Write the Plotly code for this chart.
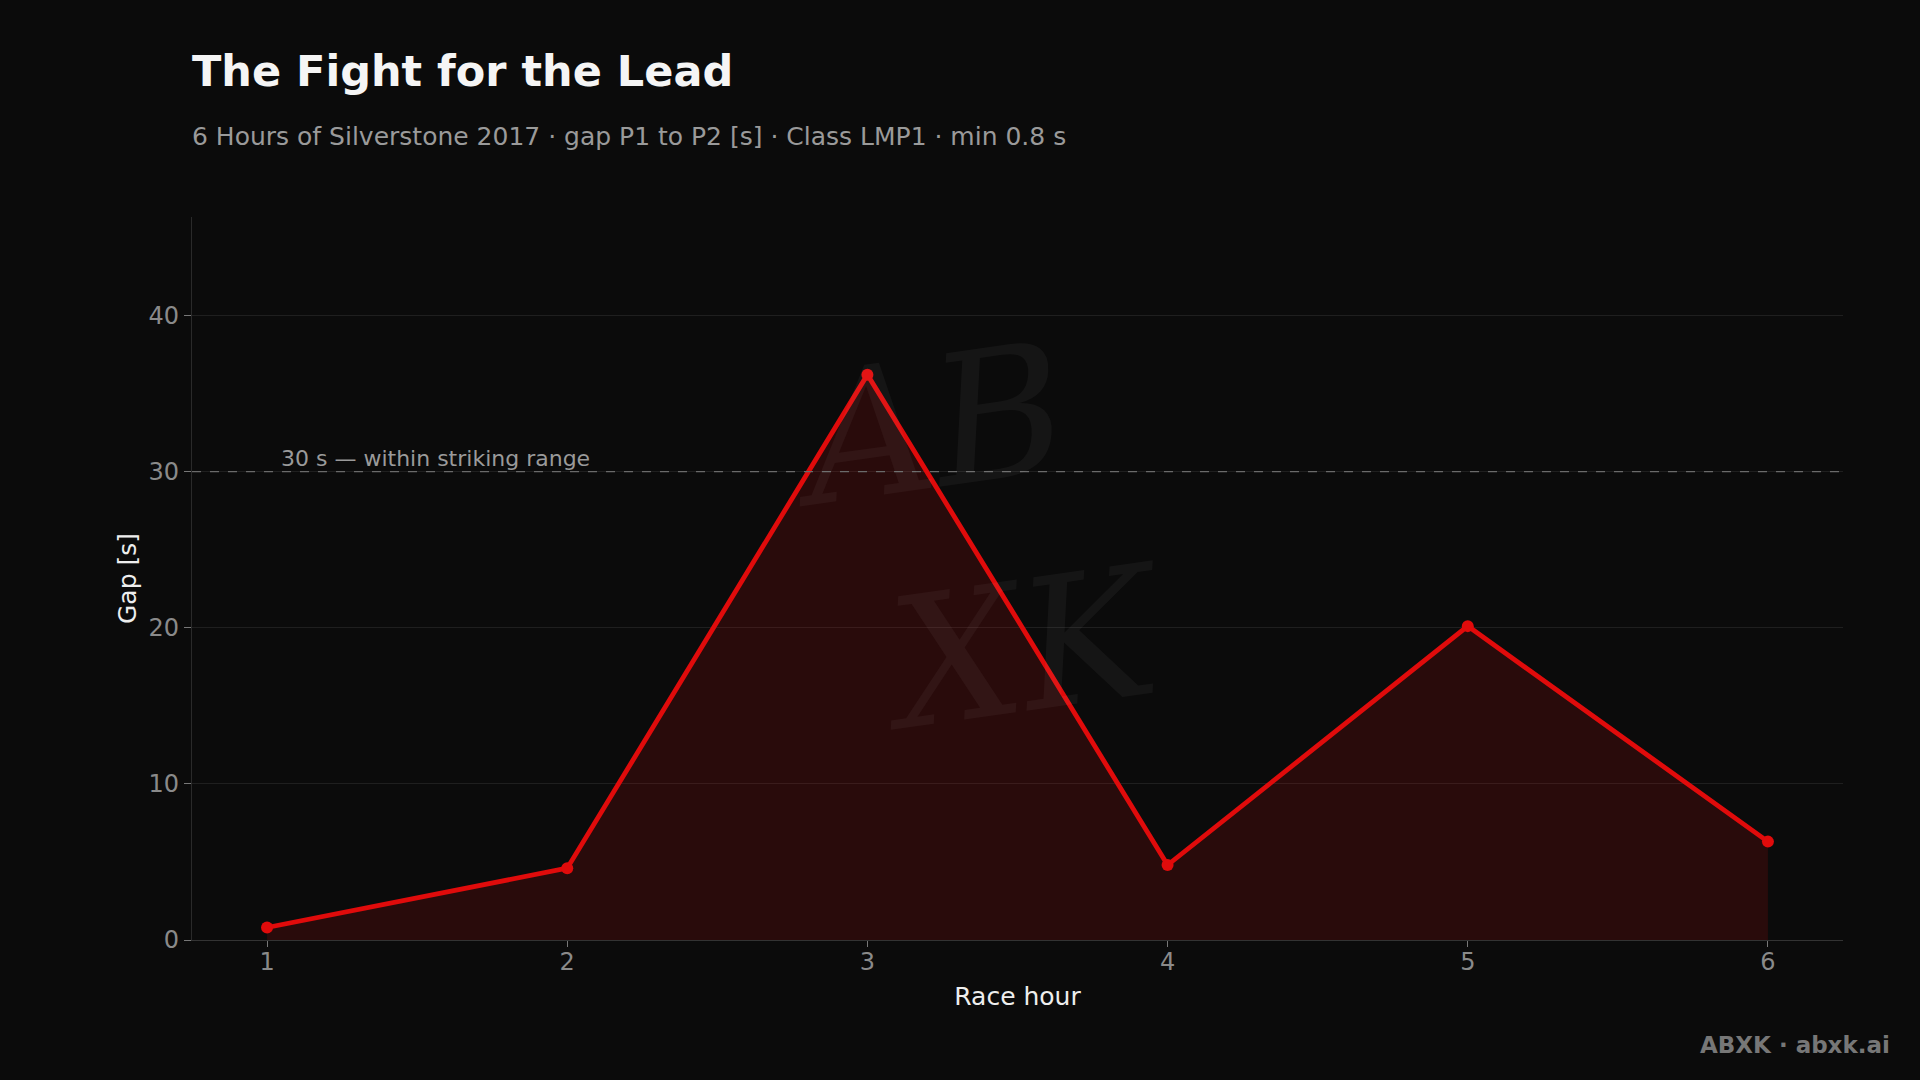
import plotly.graph_objects as go

hours = [1, 2, 3, 4, 5, 6]
gap_s = [0.8, 4.6, 36.2, 4.8, 20.1, 6.3]
y_ticks = [0, 10, 20, 30, 40]
threshold = 30
title = "The Fight for the Lead"
subtitle = "6 Hours of Silverstone 2017 · gap P1 to P2 [s] · Class LMP1 · min 0.8 s"
threshold_label = "30 s — within striking range"
footer = "ABXK · abxk.ai"

FONT = "DejaVu Sans"
BG = "#0b0b0b"
RED = "#e00b0b"

W, H = 1920, 1080
plot_l, plot_r, plot_t, plot_b = 192, 1843, 217, 940


def px_to_paper(px, py):
    return (px - plot_l) / (plot_r - plot_l), (plot_b - py) / (plot_b - plot_t)


fig = go.Figure()
fig.add_trace(go.Scatter(
    x=hours, y=gap_s, mode="lines+markers",
    line=dict(color=RED, width=4.8),
    marker=dict(color=RED, size=12),
    fill="tozeroy", fillcolor="rgba(200,10,10,0.16)",
    hoverinfo="skip", showlegend=False,
))

fig.add_shape(type="line", xref="paper", yref="y", x0=0, x1=1, y0=threshold, y1=threshold,
              line=dict(color="#6a6a6a", width=1.3, dash="dash"), layer="above")
fig.add_annotation(x=1.04, y=threshold, xref="x", yref="y", xanchor="left", yanchor="bottom",
                   text=threshold_label, showarrow=False, yshift=-1,
                   font=dict(family=FONT, size=22, color="#9a9a9a"))

# watermark
wx, wy = px_to_paper(955, 539)
fig.add_annotation(x=wx, y=wy, xref="paper", yref="paper", text="AB<br>  XK",
                   showarrow=False,
                   font=dict(family="DejaVu Serif", size=180, color="rgba(255,255,255,0.045)",
                             style="italic"),
                   textangle=-8)

# subtitle
sx, sy = px_to_paper(190, 137)
fig.add_annotation(x=sx, y=sy, xref="paper", yref="paper", xanchor="left", yanchor="middle",
                   text=subtitle, showarrow=False,
                   font=dict(family=FONT, size=25, color="#9a9a9a"))

# footer
fx, fy = px_to_paper(1892, 1045)
fig.add_annotation(x=fx, y=fy, xref="paper", yref="paper", xanchor="right", yanchor="middle",
                   text=f"<b>{footer}</b>", showarrow=False,
                   font=dict(family=FONT, size=23, color="#777777"))

fig.update_layout(
    width=W, height=H,
    paper_bgcolor=BG, plot_bgcolor=BG,
    margin=dict(l=plot_l, r=W - plot_r, t=plot_t, b=H - plot_b),
    font=dict(family=FONT, color="#8a8a8a"),
    title=dict(
        text=f"<b>{title}</b>",
        x=192 / W, xanchor="left", xref="container", y=1 - 71 / H, yanchor="middle", yref="container",
        font=dict(family=FONT, size=43, color="#f5f5f5"),
    ),
    xaxis=dict(
        range=[0.75, 6.25], tickvals=hours, ticks="outside", ticklen=6, tickcolor="#777",
        ticklabelstandoff=-6,
        tickfont=dict(size=24, color="#8a8a8a"), showgrid=False, zeroline=False,
        showline=True, linecolor="#333", linewidth=1.2,
        title=dict(text="Race hour", font=dict(size=25, color="#eeeeee"), standoff=12),
    ),
    yaxis=dict(
        range=[0, 46.3], tickvals=y_ticks, ticks="outside", ticklen=7, tickcolor="#777",
        tickfont=dict(size=24, color="#8a8a8a"), showgrid=True, gridcolor="#1f1f1f", gridwidth=1,
        zeroline=False, showline=True, linecolor="#2a2a2a", linewidth=1.2,
        title=dict(text="Gap [s]", font=dict(size=25, color="#eeeeee"), standoff=4),
    ),
)

fig.write_html(
    "out.html",
    config={"displayModeBar": False},
    post_script="document.body.style.margin='0';document.body.style.background='#0b0b0b';"
                "document.body.style.overflow='hidden';",
)
